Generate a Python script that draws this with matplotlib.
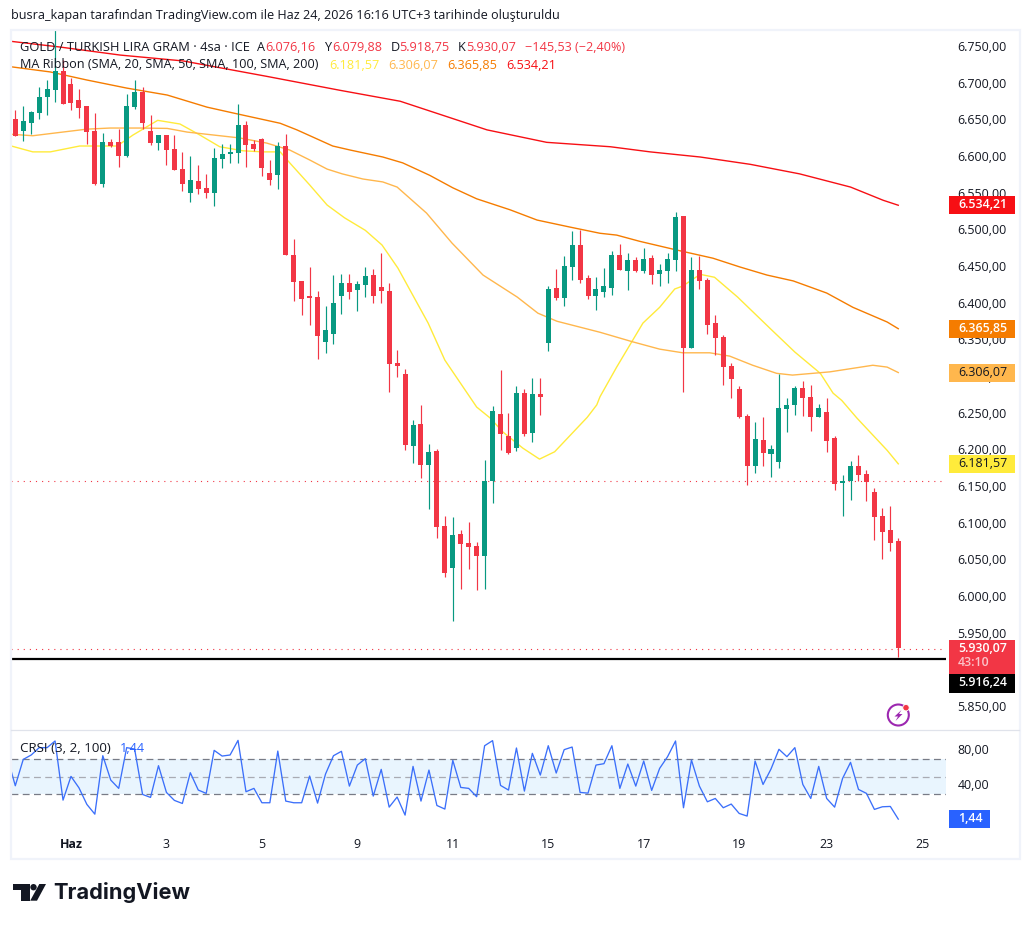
import matplotlib
matplotlib.use("Agg")
import matplotlib.pyplot as plt
from matplotlib.patches import Rectangle, Circle, Polygon
from matplotlib.transforms import ScaledTranslation

W, H = 1031, 925
plt.rcParams['font.family'] = ['Open Sans', 'DejaVu Sans']

opens = [
 6652,6635,6646,6660,6682,6691,6717,6700,6678,6670,
 6635,6563,6620,6620,6601,6668,6689,6635,6619,6630,
 6611,6584,6551,6567,6558,6551,6597,6604,6605,6644,
 6618,6625,6578,6575,6615,6466,6431,6410,6409,6348,
 6359,6410,6428,6419,6425,6439,6423,6417,6319,6304,
 6206,6236,6180,6199,6097,6040,6086,6074,6070,6056,
 6158,6250,6220,6203,6278,6224,6277,6346,6421,6408,
 6450,6480,6435,6410,6416,6421,6466,6445,6460,6445,
 6462,6440,6445,6460,6520,6340,6446,6432,6374,6354,
 6315,6284,6247,6179,6214,6195,6184,6256,6262,6285,
 6273,6245,6252,6217,6155,6158,6179,6168,6143,6110,
 6091,6076.16]
highs = [
 6664,6670,6663,6695,6705,6773,6732,6708,6693,6670,
 6660,6633,6625,6638,6686,6705,6695,6657,6630,6630,
 6630,6607,6601,6589,6577,6612,6618,6618,6672,6649,
 6623,6626,6596,6620,6631,6488,6431,6450,6417,6397,
 6439,6440,6440,6431,6450,6447,6469,6428,6337,6311,
 6241,6262,6209,6202,6110,6109,6091,6102,6075,6187,
 6260,6310,6251,6288,6284,6299,6299,6424,6447,6465,
 6499,6500,6439,6436,6449,6472,6481,6469,6464,6476,
 6466,6454,6469,6525,6520,6464,6465,6435,6385,6357,
 6319,6288,6250,6239,6245,6207,6304,6271,6288,6295,
 6289,6263,6271,6220,6166,6185,6194,6173,6149,6121,
 6124,6079.88]
lows = [
 6629,6622,6631,6652,6657,6675,6672,6664,6653,6618,
 6562,6559,6614,6586,6600,6665,6638,6616,6610,6589,
 6582,6554,6539,6550,6544,6533,6585,6592,6592,6586,
 6608,6574,6562,6556,6466,6404,6385,6371,6325,6333,
 6345,6386,6406,6390,6409,6401,6401,6280,6300,6200,
 6183,6162,6120,6080,6027,5967,6011,6038,6010,6011,
 6128,6200,6195,6199,6220,6211,6248,6335,6405,6397,
 6432,6428,6406,6391,6409,6412,6446,6419,6443,6442,
 6427,6424,6428,6445,6280,6340,6420,6359,6330,6289,
 6271,6244,6153,6169,6179,6164,6176,6225,6248,6247,
 6226,6245,6198,6146,6110,6132,6158,6131,6078,6052,
 6063,5918.75]
closes = [
 6629,6649,6661,6682,6693,6717,6672,6674,6667,6634,
 6563,6620,6615,6601,6670,6689,6646,6619,6630,6610,
 6582,6563,6569,6556,6551,6599,6604,6607,6644,6616,
 6611,6585,6569,6615,6466,6430,6406,6408,6356,6364,
 6401,6428,6416,6427,6438,6410,6417,6318,6315,6207,
 6235,6180,6198,6095,6033,6085,6072,6068,6056,6158,
 6254,6222,6196,6278,6222,6277,6273,6420,6408,6451,
 6480,6432,6410,6420,6424,6466,6446,6460,6445,6461,
 6439,6446,6461,6518,6340,6446,6431,6371,6353,6314,
 6297,6245,6179,6215,6196,6202,6258,6262,6285,6271,
 6245,6258,6213,6154,6158,6179,6166,6157,6109,6089,
 6074,5930.07]

sma20_x = [-0.5,2.2,4.4,8.1,12.8,14.8,17.9,20.7,23.2,25.7,28.6,31.1,33.3,34.5,37,39.2,41.4,44,46.1,48.1,51.9,54,58,59.7,61.3,63.8,65.9,67.8,71.9,73.1,73.5,75.6,78.9,81,82.9,83.9,86.1,87.9,90.8,95.1,98,101.2,102.8,103.9,105.8,109.6,111]
sma20_y = [6615,6607,6607,6615,6615,6630,6650,6645,6630,6614,6608.5,6607,6607,6592,6562,6534.5,6517,6500,6480,6448.5,6373.5,6323,6259,6244,6225,6203,6188,6198,6245,6262,6273,6313.5,6373.5,6395,6420,6424,6440,6436,6409,6364,6334,6305,6278,6268,6244,6200,6181.57]
sma50_x = [-0.5,2.2,5.2,9,11.9,15.7,19.1,21.6,24.9,28.2,31.6,34.5,37,39.2,41.1,43.7,46.2,48,51.7,54.9,58.8,63.1,65.7,68.1,73.5,77.6,81,83.9,87.3,89.8,92.7,95.7,97.7,102.4,107.8,109.6,111]
sma50_y = [6631,6629,6633,6638,6639.5,6639.5,6639,6634,6630,6626,6619,6609.5,6596,6583.5,6577,6570,6566,6559,6523.5,6482.6,6439,6409,6387,6376,6361,6348,6338,6333,6333,6328.5,6316,6305,6302.6,6307,6316,6313.5,6306.07]
sma100_x = [-0.5,4.4,9,14,19.1,24.1,27.4,33.3,35.4,39.9,42.1,46.2,48.7,52.1,55,58,62.2,65.6,69.7,73.5,75.6,78.5,83.6,87.7,91.1,94.5,97.8,102,105.3,109.6,111]
sma100_y = [6723,6716,6705,6694,6684.5,6668,6660,6646,6637,6615,6609.5,6600,6592,6575,6558,6543,6528,6514,6504.5,6496,6493.5,6485,6472,6462,6450,6439,6431,6414.5,6395,6375,6365.85]
sma200_x = [-0.5,5.6,13.2,21.1,31.6,40.8,48.4,59.3,66.8,74.8,79.8,86.1,92.4,98.6,105,109.1,111]
sma200_y = [6757.7,6750,6739,6731,6710,6691,6676,6637,6620,6614,6607,6600,6590,6577,6559,6541,6534.21]

crsi_before_first = 72
crsi = [
 39.5,69.6,74.6,83,83,90.6,23.1,50.2,37.2,18.2,7.1,73.8,46,36.5,83,81.4,29.6,26.2,62.4,31.9,
 22.8,19.3,54.4,34.6,30.8,79.9,73.4,74.6,91.3,32.7,36.5,20.1,20.1,79.1,22,20.1,20.1,50.6,19.7,52.9,
 73.8,78.8,39.1,63.1,70.4,27.7,58.2,15.1,26.6,6,61.6,22,57.4,17,12.9,68.5,37.6,36.5,27,85.2,
 91,39.9,34.6,82.6,33.4,76.5,51.7,85.2,54,80.7,83.7,31.9,31.1,63.1,64.7,85.2,36.5,64.3,39.1,67.7,
 34.2,59.3,72.7,90.6,14.4,68.9,39.1,21.2,25,14.4,18.6,7.9,4.9,67.7,41,58.6,81.1,72.7,83,41,
 25,61.6,25,15.1,47.9,66.2,35.3,30.8,12.5,15.5,15.9,1.44]

price_ticks = [6750,6700,6650,6600,6550,6500,6450,6400,6350,6300,6250,6200,6150,6100,6050,6000,5950,5900,5850]
price_labels = ['6.750,00','6.700,00','6.650,00','6.600,00','6.550,00','6.500,00','6.450,00','6.400,00','6.350,00','6.300,00','6.250,00','6.200,00','6.150,00','6.100,00','6.050,00','6.000,00','5.950,00','5.900,00','5.850,00']
crsi_ticks = [80,40]
crsi_tick_labels = ['80,00','40,00']
day_ticks = [7,19,31,43,55,67,79,91,102,114]
day_labels = ['Haz','3','5','9','11','15','17','19','23','25']

hline_level = 5915.4
prev_level = 6157.7
last_level = 5929.5

GREEN, RED = '#089981', '#f23645'
C20, C50, C100, C200 = '#ffeb3b', '#ffb74d', '#f57c00', '#f70f14'
INK = '#131722'
BLUE = '#2962ff'

fig = plt.figure(figsize=(W/100, H/100), dpi=100, facecolor='white')

def axes_px(x0, y0, x1, y1):
    return fig.add_axes([x0/W, 1-y1/H, (x1-x0)/W, (y1-y0)/H])

XLIM = (-0.54, 117.0)
ax = axes_px(11, 30, 946, 730)
ax.set_xlim(*XLIM)
ax.set_ylim(5818.6, 6773.2)
cx = axes_px(11, 731, 946, 830)
cx.set_xlim(*XLIM)
cx.set_ylim(-11, 102)
for a in (ax, cx):
    for s in a.spines.values():
        s.set_visible(False)
    a.yaxis.tick_right()
    a.tick_params(axis='both', length=0)

# price pane
idx = list(range(len(opens)))
for xs, ys, c in [(sma20_x, sma20_y, C20), (sma50_x, sma50_y, C50), (sma100_x, sma100_y, C100), (sma200_x, sma200_y, C200)]:
    ax.plot(xs, ys, color=c, lw=1.0, zorder=2, solid_joinstyle='round')
colors = [GREEN if c >= o else RED for o, c in zip(opens, closes)]
ax.vlines(idx, lows, highs, colors=colors, lw=0.85, zorder=3)
ax.bar(idx, [abs(c-o) for o, c in zip(opens, closes)], bottom=[min(o, c) for o, c in zip(opens, closes)],
       width=0.63, color=colors, linewidth=0, zorder=4)
ax.axhline(prev_level, color=RED, lw=0.8, ls=(0, (1, 4.5)), zorder=3.5)
ax.axhline(last_level, color=RED, lw=0.8, ls=(0, (1, 4.5)), zorder=3.5)
ax.axhline(hline_level, color='black', lw=1.6, zorder=5)
ax.set_xticks([])
ax.set_yticks(price_ticks)
ax.set_yticklabels(price_labels, fontsize=8.9, color=INK, ha='left')
ax.tick_params(axis='y', pad=8.2)

# CRSI pane
cx.axhspan(30, 70, color='#e9f5fe', lw=0, zorder=1)
cx.axhline(70, color='#787b86', lw=0.9, ls=(0, (5.5, 3.5)), zorder=2)
cx.axhline(30, color='#787b86', lw=0.9, ls=(0, (5.5, 3.5)), zorder=2)
cx.axhline(50, color='#a9abb3', lw=0.9, ls=(0, (5.5, 3.5)), zorder=2)
cx.plot([-1] + idx, [crsi_before_first] + crsi, color='#3b6ffa', lw=0.95, zorder=3)
cx.set_yticks(crsi_ticks)
cx.set_yticklabels(crsi_tick_labels, fontsize=8.9, color=INK, ha='left')
cx.tick_params(axis='y', pad=8.2)
cx.set_xticks(day_ticks)
cx.set_xticklabels(day_labels, fontsize=8.9, color=INK)
cx.tick_params(axis='x', pad=5.5)
cx.get_xticklabels()[0].set_fontweight('bold')

nudge = ScaledTranslation(0, 0.8/72, fig.dpi_scale_trans)
for a in (ax, cx):
    for lab in a.get_yticklabels():
        lab.set_transform(lab.get_transform() + nudge)

# overlay in pixel units for decorations
ov = fig.add_axes([0, 0, 1, 1], zorder=10)
ov.set_xlim(0, W)
ov.set_ylim(H, 0)
ov.axis('off')
ov.patch.set_alpha(0)

ov.add_patch(Rectangle((11, 30), 1009, 829, fill=False, ec='#f0f3fa', lw=1.6))
ov.plot([11, 1019], [730.3, 730.3], color='#e0e3eb', lw=0.9)

def T(x, y, s, color=INK, size=8.9, **kw):
    kw.setdefault('va', 'center')
    kw.setdefault('ha', 'left')
    return ov.text(x, y, s, color=color, fontsize=size, **kw)

T(11, 16, 'busra_kapan tarafından TradingView.com ile Haz 24, 2026 16:16 UTC+3 tarihinde oluşturuldu', size=9.05)
T(20, 47.5, 'GOLD / TURKISH LIRA GRAM · 4sa · ICE', size=9.25)
for xl, l, xv, v in [(257, 'A', 265, '6.076,16'), (324, 'Y', 332, '6.079,88'), (391, 'D', 399, '5.918,75'), (458, 'K', 466, '5.930,07')]:
    T(xl, 47.5, l, size=9.05)
    T(xv, 47.5, v, color=RED, size=9.05)
T(525, 47.5, '−145,53 (−2,40%)', color=RED, size=9.05)
T(20, 65, 'MA Ribbon (SMA, 20, SMA, 50, SMA, 100, SMA, 200)', size=9.1)
for xv, v, c in [(329, '6.181,57', C20), (388, '6.306,07', C50), (447, '6.365,85', C100), (506, '6.534,21', C200)]:
    T(xv, 65.5, v, color=c, size=9.05)
T(20, 748, 'CRSI (3, 2, 100)', size=9.6)
T(120, 748, '1,44', color=BLUE, size=9.05)

def price_px(p):
    return H - ax.transData.transform((0, p))[1]

def tag(y0, y1, fc, txt, tc, x1=1015, weight='semibold'):
    ov.add_patch(Rectangle((949, y0), x1-949, y1-y0, fc=fc, ec='none', zorder=5))
    if txt:
        T(958, (y0+y1)/2 - 0.5, txt, color=tc, zorder=6, fontweight=weight)

for p, fc, txt, tc, wt in [(6534.21, C200, '6.534,21', 'white', 'semibold'), (6365.85, C100, '6.365,85', 'white', 'semibold'),
                           (6306.07, C50, '6.306,07', INK, 'normal'), (6181.57, C20, '6.181,57', INK, 'normal')]:
    yc = price_px(p)
    tag(yc-9, yc+9, fc, txt, tc, weight=wt)
tag(640, 674, RED, '', 'white')
T(958, 648, '5.930,07', color='white', zorder=6, fontweight='semibold')
T(958, 662.5, '43:10', color='#fbc3c9', zorder=6, fontweight='semibold')
tag(674, 692.5, 'black', '5.916,24', 'white')
ov.add_patch(Rectangle((949, 810), 41, 18, fc=BLUE, ec='none', zorder=5))
T(958, 818.5, '1,44', color='white', zorder=6, fontweight='semibold')

# lightning badge
ov.add_patch(Circle((898.3, 715), 10.5, fill=False, ec='#9c27b0', lw=1.5))
ov.add_patch(Polygon([(901.5, 710), (894.5, 716.5), (898, 716.5), (895.5, 721), (902.5, 714), (899, 714)], fc='#9c27b0', ec='none'))
ov.add_patch(Circle((906, 707.7), 3.2, fc=RED, ec='white', lw=0.6))

# TradingView logo
LOGO = '#131722'
ov.add_patch(Polygon([(13.3, 884), (29.5, 884), (29.5, 900.7), (21, 900.7), (21, 890.3), (13.3, 890.3)], fc=LOGO, ec='none'))
ov.add_patch(Circle((33.5, 887.2), 3.2, fc=LOGO, ec='none'))
ov.add_patch(Polygon([(39.3, 884), (46, 884), (37, 900.7), (30.2, 900.7)], fc=LOGO, ec='none'))
T(53, 892.5, 'TradingView', size=15.7, family=['Inter', 'DejaVu Sans'], fontweight='bold', color=LOGO)

fig.savefig('out.png', dpi=100, facecolor='white')
